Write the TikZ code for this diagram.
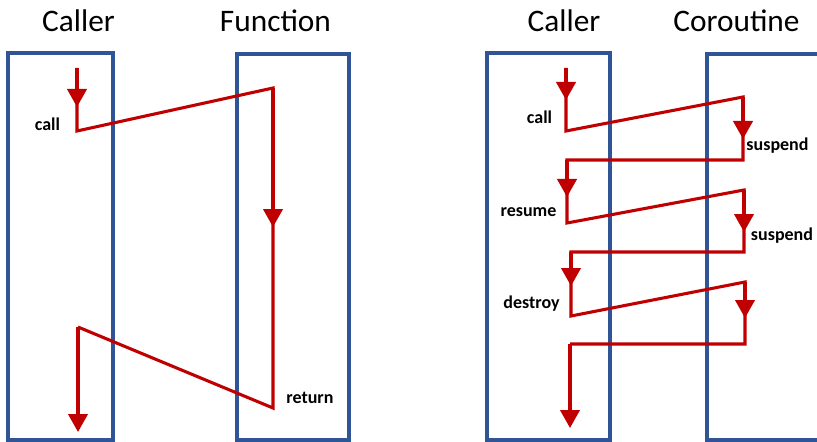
\documentclass[tikz,border=0pt]{standalone}
\usepackage{fontspec}
\setmainfont{Carlito}
\usetikzlibrary{arrows.meta}
\definecolor{c1}{HTML}{C00000}
\definecolor{c2}{HTML}{2F5597}

\begin{document}
\begin{tikzpicture}[
  x=0.75pt,y=-0.75pt,
  lane/.style={draw=c2,line width=2.5pt},
  flow/.style={draw=c1,line width=2.3pt},
  tip/.style={-{Triangle[length=13.5pt,width=14.5pt]}},
  ttl/.style={font=\fontsize{23.5}{28}\selectfont,anchor=base},
  lbl/.style={font=\fontsize{13.5}{16}\selectfont\bfseries,anchor=base}]

\useasboundingbox (0,0) rectangle (817,442);

% lanes
\draw[lane] (8,53) rectangle (113,440);
\draw[lane] (237,54) rectangle (349,440);
\draw[lane] (487,53) rectangle (610,440);
\draw[lane] (707,54) rectangle (840,440);

% titles
\node[ttl] (caller1) at (78.5,32) {Caller};
\node[ttl] (func) at (275.5,32) {Function};
\node[ttl] (caller2) at (564,32) {Caller};
\node[ttl] (corout) at (736.5,32) {Coroutine};

% function: call and return
\foreach \n/\x/\y in {f0/77/68, f1/77/131, f2/273/88, f3/273/408, f4/78/327, f5/78/432,
                      g1/77/107, g2/273/227}
  \coordinate (\n) at (\x,\y);
\draw[flow] (f0) -- (f1) -- (f2) -- (f3) -- (f4);
\draw[flow,tip] (f4) -- (f5);
\draw[flow,tip] (f0) -- (g1);
\draw[flow,tip] (f2) -- (g2);
\node[lbl] (call1) at (47.5,131) {call};
\node[lbl] (ret) at (310,403) {return};

% coroutine: call, suspend, resume, destroy
\foreach \n/\x/\y in {r0/566/68, r1/566/131, r2/743/97, r3/743/160, r4/567/160,
                      r5/567/223, r6/744/190, r7/744/252, r8/571/252, r9/571/316,
                      r10/745/282, r11/745/344, r12/570/344, r13/570/428,
                      s1/566/100, s2/743/139, s3/567/197, s4/744/232, s5/571/286, s6/745/318}
  \coordinate (\n) at (\x,\y);
\draw[flow] (r0) -- (r1) -- (r2) -- (r3) -- (r4) -- (r5) -- (r6) -- (r7)
  -- (r8) -- (r9) -- (r10) -- (r11) -- (r12);
\draw[flow,tip] (r12) -- (r13);
\foreach \a/\b in {r0/s1, r2/s2, r4/s3, r6/s4, r8/s5, r10/s6}
  \draw[flow,tip] (\a) -- (\b);
\node[lbl] (call2) at (539.5,124) {call};
\node[lbl] (susp1) at (777.5,151) {suspend};
\node[lbl] (resume) at (528.5,216) {resume};
\node[lbl] (susp2) at (782,240) {suspend};
\node[lbl] (destroy) at (531.5,308) {destroy};
\end{tikzpicture}
\end{document}
